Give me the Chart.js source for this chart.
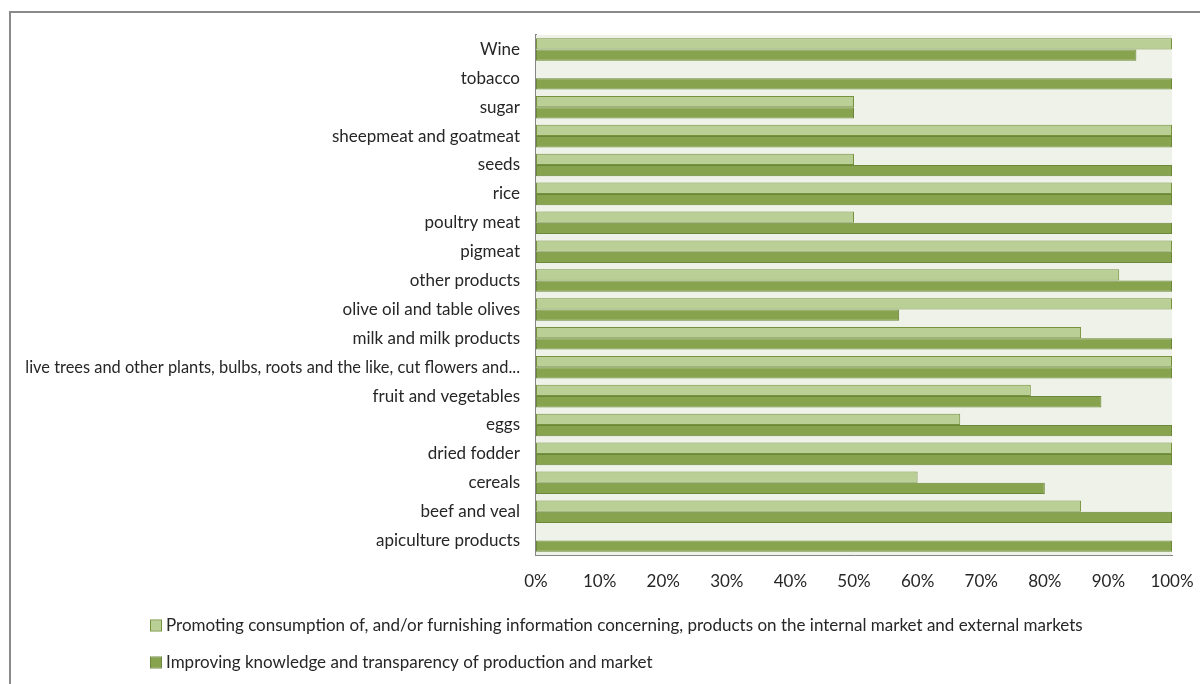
<!DOCTYPE html>
<html>
<head>
<meta charset="utf-8">
<script src="https://cdn.jsdelivr.net/npm/chart.js@4/dist/chart.umd.min.js"></script>
<style>
  html, body { margin: 0; padding: 0; background: #fff; }
  #wrap { position: relative; width: 1200px; height: 684px; overflow: hidden; }
  #frame { position: absolute; left: 9px; top: 11px; width: 1300px; height: 800px;
           border-left: 2px solid #8a8a8a; border-top: 2px solid #8a8a8a; }
  canvas { position: absolute; left: 0; top: 0; }
</style>
</head>
<body>
<div id="wrap">
  <div id="frame"></div>
  <canvas id="c" width="1200" height="684"></canvas>
</div>
<script>
// Product sectors, listed top to bottom
const categories = [
  'Wine', 'tobacco', 'sugar', 'sheepmeat and goatmeat', 'seeds', 'rice',
  'poultry meat', 'pigmeat', 'other products', 'olive oil and table olives',
  'milk and milk products',
  'live trees and other plants, bulbs, roots and the like, cut flowers and...',
  'fruit and vegetables', 'eggs', 'dried fodder', 'cereals', 'beef and veal',
  'apiculture products'
];

// Share of bodies (%) per objective
const promotingValues = [100, 0, 50, 100, 50, 100, 50, 100, 91.7, 100, 85.7, 100, 77.8, 66.7, 100, 60, 85.7, 0];
const knowledgeValues = [94.4, 100, 50, 100, 100, 100, 100, 100, 100, 57.1, 100, 100, 88.9, 100, 100, 80, 100, 100];

const seriesNames = [
  'Promoting consumption of, and/or furnishing information concerning, products on the internal market and external markets',
  'Improving knowledge and transparency of production and market'
];

const xTickValues = [0, 10, 20, 30, 40, 50, 60, 70, 80, 90, 100];

const FONT = 'Lato, "Open Sans", sans-serif';
const FONT_SIZE = 17;

// plot background
const plotBackground = {
  id: 'plotBackground',
  beforeDatasetsDraw(chart) {
    const { ctx, chartArea: a } = chart;
    ctx.save();
    ctx.fillStyle = '#eff2e8';
    ctx.fillRect(a.left, a.top, a.right - a.left, a.bottom - a.top);
    ctx.restore();
  }
};

// legend rows, left aligned below the axis
const sideLegend = {
  id: 'sideLegend',
  afterDraw(chart) {
    const { ctx } = chart;
    ctx.save();
    ctx.font = FONT_SIZE + 'px ' + FONT;
    ctx.textBaseline = 'middle';
    ctx.textAlign = 'left';
    const rows = [626, 663];
    chart.data.datasets.forEach((ds, i) => {
      const y = rows[i];
      ctx.fillStyle = ds.backgroundColor;
      ctx.fillRect(151, y - 5.5, 10, 10);
      ctx.strokeStyle = ds.borderColor;
      ctx.lineWidth = 1;
      ctx.strokeRect(150.5, y - 6, 11, 11);
      ctx.fillStyle = '#262626';
      ctx.fillText(ds.label, 166, y);
    });
    ctx.restore();
  }
};

new Chart(document.getElementById('c'), {
  type: 'bar',
  data: {
    labels: categories,
    datasets: [
      {
        label: seriesNames[0],
        data: promotingValues,
        backgroundColor: '#b9cf96',
        borderColor: '#76923c',
        borderWidth: 1,
        borderSkipped: false
      },
      {
        label: seriesNames[1],
        data: knowledgeValues,
        backgroundColor: '#87a34e',
        borderColor: '#6a873a',
        borderWidth: 1,
        borderSkipped: false
      }
    ]
  },
  options: {
    indexAxis: 'y',
    responsive: false,
    animation: false,
    devicePixelRatio: 1,
    layout: { padding: { top: 35, right: 28, left: 0, bottom: 0 } },
    datasets: { bar: { categoryPercentage: 0.78, barPercentage: 1 } },
    plugins: {
      legend: { display: false },
      tooltip: { enabled: false }
    },
    scales: {
      x: {
        min: 0,
        max: 100,
        afterBuildTicks: s => { s.ticks = xTickValues.map(v => ({ value: v })); },
        afterFit: s => { s.height = 129; s.paddingRight = 0; s.paddingLeft = 0; },
        grid: { display: false, drawTicks: false },
        border: { display: true, color: '#868686', width: 1 },
        ticks: {
          padding: 16,
          color: '#262626',
          font: { family: FONT, size: FONT_SIZE },
          callback: v => v + '%'
        }
      },
      y: {
        afterFit: s => { s.width = 536; },
        grid: { display: false, drawTicks: false },
        border: { display: true, color: '#868686', width: 2 },
        ticks: {
          padding: 16,
          autoSkip: false,
          color: '#262626',
          // the long truncated label is set slightly smaller so it stays inside the frame
          font: ctx => ({ family: FONT, size: String(categories[ctx.index] || '').length > 60 ? 16.4 : FONT_SIZE })
        }
      }
    }
  },
  plugins: [plotBackground, sideLegend]
});
</script>
</body>
</html>
